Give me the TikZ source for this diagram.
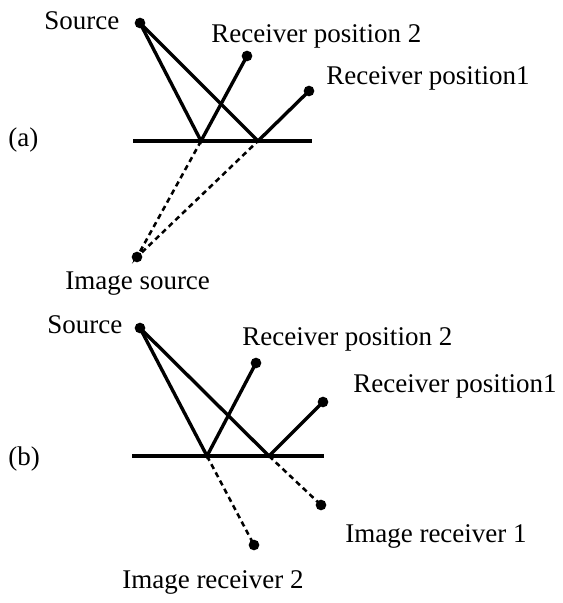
\documentclass[tikz,border=0pt]{standalone}
\usepackage{fontspec}
\setmainfont{Liberation Serif}
\usetikzlibrary{positioning}
\tikzset{
  ray/.style={line width=2.4pt,line cap=round},
  wall/.style={line width=3pt},
  imgray/.style={line width=1.8pt,dash pattern=on 3.8pt off 2.8pt},
  lbl/.style={font=\fontsize{19.2}{23}\selectfont,inner sep=0pt,anchor=base west},
}

\begin{document}
\begin{tikzpicture}[x=0.025cm,y=-0.025cm]
  \useasboundingbox (0,0) rectangle (562,603);

  % (a) image source
  \coordinate (srcA) at (140,23);
  \coordinate (recA2) at (247,56);
  \coordinate (recA1) at (309,91);
  \coordinate (imsrcA) at (137,257);
  \coordinate (wallA-l) at (133,141);
  \coordinate (wallA-r) at (312,141);
  \coordinate (hitA2) at (201,141);
  \coordinate (hitA1) at (258,141);
  \draw[wall] (wallA-l) -- (wallA-r);
  \draw[ray] (srcA) -- (hitA2) -- (recA2);
  \draw[ray] (srcA) -- (hitA1) -- (recA1);
  \draw[imgray] (hitA2) -- (imsrcA) -- (hitA1);
  \foreach \p in {srcA,recA2,recA1,imsrcA}{\fill (\p) circle (3.8pt);}
  \node[lbl] (labA) at (8,147) {(a)};
  \node[lbl] (srcA-t) at (44,30) {Source};
  \node[lbl] (recA2-t) at (211,43) {Receiver position 2};
  \node[lbl] (recA1-t) at (326,85) {Receiver position1};
  \node[lbl] (imsrcA-t) at (65,289) {Image source};

  % (b) image receivers
  \coordinate (srcB) at (140,328);
  \coordinate (recB2) at (256,363);
  \coordinate (recB1) at (323,402);
  \coordinate (imrecB2) at (254,545);
  \coordinate (imrecB1) at (321,505);
  \coordinate (wallB-l) at (132,456);
  \coordinate (wallB-r) at (324,456);
  \coordinate (hitB2) at (207,456);
  \coordinate (hitB1) at (269,456);
  \draw[wall] (wallB-l) -- (wallB-r);
  \draw[ray] (srcB) -- (hitB2) -- (recB2);
  \draw[ray] (srcB) -- (hitB1) -- (recB1);
  \draw[imgray] (hitB2) -- (imrecB2);
  \draw[imgray] (hitB1) -- (imrecB1);
  \foreach \p in {srcB,recB2,recB1,imrecB2,imrecB1}{\fill (\p) circle (3.8pt);}
  \node[lbl] (labB) at (8,465) {(b)};
  \node[lbl] (srcB-t) at (47,333) {Source};
  \node[lbl] (recB2-t) at (242,345) {Receiver position 2};
  \node[lbl] (recB1-t) at (353,392) {Receiver position1};
  \node[lbl] (imrecB1-t) at (345,542) {Image receiver 1};
  \node[lbl] (imrecB2-t) at (122,588) {Image receiver 2};
\end{tikzpicture}
\end{document}
